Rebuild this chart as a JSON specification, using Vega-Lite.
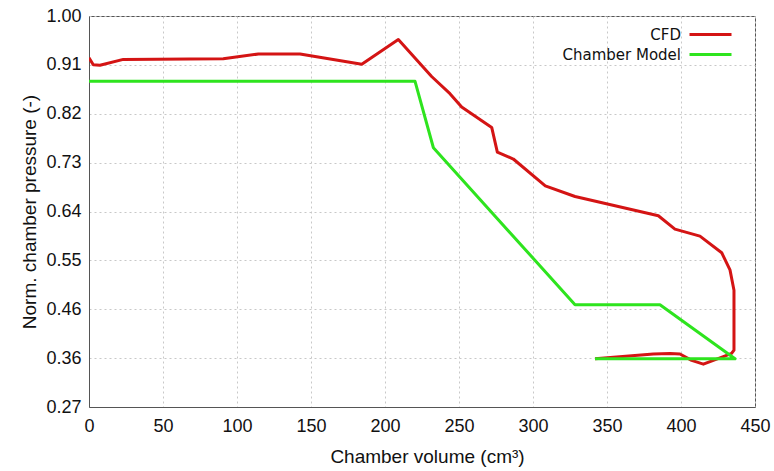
{
  "$schema": "https://vega.github.io/schema/vega-lite/v6.json",
  "autosize": "none",
  "width": 666,
  "height": 391,
  "padding": {"left": 89, "top": 16, "right": 19, "bottom": 64},
  "background": "white",
  "config": {
    "view": {"stroke": "#555555", "strokeWidth": 1},
    "axis": {
      "labelFont": "Liberation Sans",
      "labelFontSize": 18,
      "labelColor": "#111111",
      "titleFont": "Liberation Sans",
      "titleFontSize": 19,
      "titleFontWeight": "normal",
      "titleColor": "#111111",
      "ticks": false,
      "domainColor": "#555555",
      "gridColor": "#c8c8c8",
      "gridDash": [2, 3],
      "gridWidth": 1
    }
  },
  "data": {
    "values": [
      {"series": "CFD", "i": 0, "vol": 0, "p": 0.922},
      {"series": "CFD", "i": 1, "vol": 2.9, "p": 0.909},
      {"series": "CFD", "i": 2, "vol": 7.4, "p": 0.908},
      {"series": "CFD", "i": 3, "vol": 23.2, "p": 0.919},
      {"series": "CFD", "i": 4, "vol": 90.7, "p": 0.92},
      {"series": "CFD", "i": 5, "vol": 114.4, "p": 0.929},
      {"series": "CFD", "i": 6, "vol": 142.6, "p": 0.929},
      {"series": "CFD", "i": 7, "vol": 184.3, "p": 0.91},
      {"series": "CFD", "i": 8, "vol": 209, "p": 0.956},
      {"series": "CFD", "i": 9, "vol": 231.5, "p": 0.887},
      {"series": "CFD", "i": 10, "vol": 243.9, "p": 0.855},
      {"series": "CFD", "i": 11, "vol": 251.8, "p": 0.83},
      {"series": "CFD", "i": 12, "vol": 272.1, "p": 0.792},
      {"series": "CFD", "i": 13, "vol": 275.9, "p": 0.746},
      {"series": "CFD", "i": 14, "vol": 286.7, "p": 0.733},
      {"series": "CFD", "i": 15, "vol": 308.3, "p": 0.683},
      {"series": "CFD", "i": 16, "vol": 328.4, "p": 0.663},
      {"series": "CFD", "i": 17, "vol": 384.7, "p": 0.627},
      {"series": "CFD", "i": 18, "vol": 395.9, "p": 0.602},
      {"series": "CFD", "i": 19, "vol": 412.8, "p": 0.589},
      {"series": "CFD", "i": 20, "vol": 427.5, "p": 0.558},
      {"series": "CFD", "i": 21, "vol": 433.1, "p": 0.526},
      {"series": "CFD", "i": 22, "vol": 435.8, "p": 0.488},
      {"series": "CFD", "i": 23, "vol": 435.8, "p": 0.376},
      {"series": "CFD", "i": 24, "vol": 434.2, "p": 0.37},
      {"series": "CFD", "i": 25, "vol": 428.6, "p": 0.364},
      {"series": "CFD", "i": 26, "vol": 415.1, "p": 0.35},
      {"series": "CFD", "i": 27, "vol": 407.2, "p": 0.357},
      {"series": "CFD", "i": 28, "vol": 399.3, "p": 0.369},
      {"series": "CFD", "i": 29, "vol": 392.6, "p": 0.37},
      {"series": "CFD", "i": 30, "vol": 381.3, "p": 0.369},
      {"series": "CFD", "i": 31, "vol": 341.9, "p": 0.36},
      {"series": "Chamber Model", "i": 0, "vol": 0, "p": 0.878},
      {"series": "Chamber Model", "i": 1, "vol": 220.3, "p": 0.878},
      {"series": "Chamber Model", "i": 2, "vol": 232.7, "p": 0.754},
      {"series": "Chamber Model", "i": 3, "vol": 328.4, "p": 0.461},
      {"series": "Chamber Model", "i": 4, "vol": 385.8, "p": 0.461},
      {"series": "Chamber Model", "i": 5, "vol": 436.5, "p": 0.36},
      {"series": "Chamber Model", "i": 6, "vol": 341.9, "p": 0.36}
    ]
  },
  "mark": {"type": "line", "strokeWidth": 3, "strokeJoin": "round", "clip": true},
  "encoding": {
    "x": {
      "field": "vol",
      "type": "quantitative",
      "scale": {"domain": [0, 450], "nice": false, "zero": false},
      "axis": {
        "values": [0, 50, 100, 150, 200, 250, 300, 350, 400, 450],
        "title": "Chamber volume (cm³)",
        "titleX": 338,
        "labelPadding": 10,
        "titlePadding": 12,
        "labelFlush": false
      }
    },
    "y": {
      "field": "p",
      "type": "quantitative",
      "scale": {"domain": [0.27, 1.0], "nice": false, "zero": false},
      "axis": {
        "values": [0.27, 0.36125, 0.4525, 0.54375, 0.635, 0.72625, 0.8175, 0.90875, 1.0],
        "labelExpr": "['0.27','0.36','0.46','0.55','0.64','0.73','0.82','0.91','1.00'][round((datum.value - 0.27) / 0.09125)]",
        "title": "Norm. chamber pressure (-)",
        "labelPadding": 8,
        "titlePadding": 6,
        "labelFlush": false
      }
    },
    "color": {
      "field": "series",
      "type": "nominal",
      "scale": {"domain": ["CFD", "Chamber Model"], "range": ["#d41414", "#2ee41e"]},
      "legend": {
        "title": null,
        "orient": "none",
        "legendX": 609.5,
        "legendY": 6.5,
        "padding": 0,
        "symbolType": "M-2,0H2",
        "symbolSize": 441,
        "symbolStrokeWidth": 3,
        "symbolFillColor": "transparent",
        "labelAlign": "right",
        "labelOffset": -41.5,
        "labelFont": "DejaVu Sans",
        "labelFontSize": 15,
        "labelColor": "#111111",
        "rowPadding": 0
      }
    },
    "order": {"field": "i", "type": "quantitative"}
  }
}
